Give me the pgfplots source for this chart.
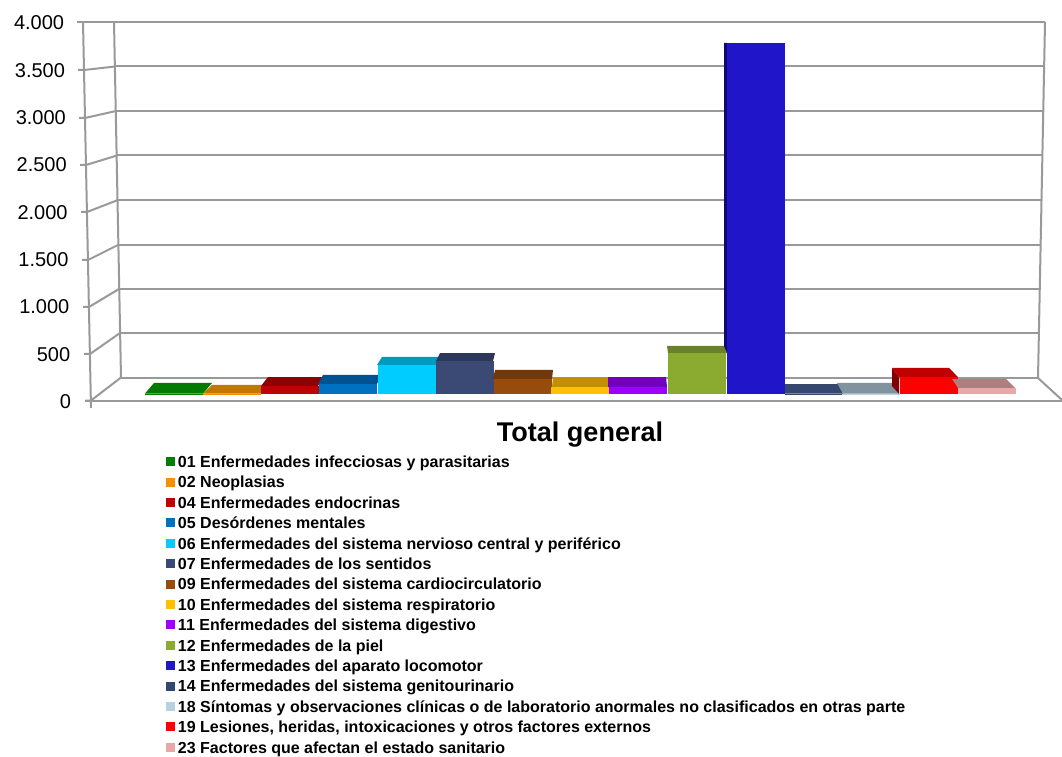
\documentclass[border=0pt]{standalone}
\usepackage{fontspec}
\setmainfont{Liberation Sans}
\usepackage{pgfplots}
\pgfplotsset{compat=1.18}
\definecolor{gridc}{HTML}{999999}
\definecolor{cA}{HTML}{007F00}\definecolor{cAt}{HTML}{007A00}
\definecolor{cB}{HTML}{F79000}\definecolor{cBt}{HTML}{C07800}
\definecolor{cC}{HTML}{C00000}\definecolor{cCt}{HTML}{8F0000}
\definecolor{cD}{HTML}{0070C0}\definecolor{cDt}{HTML}{005290}
\definecolor{cE}{HTML}{00CCFF}\definecolor{cEt}{HTML}{0099BF}
\definecolor{cF}{HTML}{3A4A75}\definecolor{cFt}{HTML}{2B3857}
\definecolor{cG}{HTML}{974B0C}\definecolor{cGt}{HTML}{713809}
\definecolor{cH}{HTML}{FFC000}\definecolor{cHt}{HTML}{BF9000}
\definecolor{cI}{HTML}{9C00FF}\definecolor{cIt}{HTML}{7200BF}
\definecolor{cJ}{HTML}{8AAB30}\definecolor{cJt}{HTML}{6A8228}
\definecolor{cK}{HTML}{2015C8}\definecolor{cKt}{HTML}{100A70}
\definecolor{cL}{HTML}{3D5A90}\definecolor{cLt}{HTML}{35466F}
\definecolor{cM}{HTML}{B7D2DE}\definecolor{cMt}{HTML}{80939E}
\definecolor{cN}{HTML}{FF0000}\definecolor{cNt}{HTML}{C00000}\definecolor{cNs}{HTML}{800000}
\definecolor{cO}{HTML}{E6A8A8}\definecolor{cOt}{HTML}{AD7F7F}
\pgfplotsset{
  hidden/.style={scale only axis,hide axis,clip=false,xmin=0,xmax=1062,width=796.5pt},
  grd/.style={gridc,line width=1.5pt,forget plot},
  barp/.style={ybar,bar width=58,bar shift=0pt,draw=none,fill=#1},
  topf/.style={draw=none,fill=#1,forget plot},
}
\begin{document}
\begin{tikzpicture}
\useasboundingbox (0,0) rectangle (796.5pt,567pt);
% structure, in reference pixels
\begin{axis}[hidden,at={(0,0)},anchor=south west,height=567pt,ymin=0,ymax=756,y dir=reverse]
\addplot[grd] coordinates {(114,22.5)(1045,22.5)};
\addplot[grd] coordinates {(115,66.5)(1044,66.5)};
\addplot[grd] coordinates {(116,111)(1043,111)};
\addplot[grd] coordinates {(117,155.5)(1042,155.5)};
\addplot[grd] coordinates {(118,200)(1042,200)};
\addplot[grd] coordinates {(118,245)(1041,245)};
\addplot[grd] coordinates {(119,289)(1040,289)};
\addplot[grd] coordinates {(120,333)(1039,333)};
\addplot[grd] coordinates {(121,377.5)(1038,377.5)};
\addplot[grd] coordinates {(77,22.5)(114,22.5)};
\addplot[grd] coordinates {(78,70)(84,70)(115,66.5)};
\addplot[grd] coordinates {(79,118)(85,118)(116,111)};
\addplot[grd] coordinates {(80,165)(86,165)(117,155.5)};
\addplot[grd] coordinates {(81,212)(87,212)(118,200)};
\addplot[grd] coordinates {(82,260)(88,260)(118,245)};
\addplot[grd] coordinates {(83,307)(89,307)(119,289)};
\addplot[grd] coordinates {(84,354)(90,354)(120,333)};
\addplot[grd] coordinates {(85,400.5)(91,400.5)(121,377.5)};
\addplot[grd] coordinates {(83,22)(91,408)};
\addplot[grd] coordinates {(114,22)(121,378)};
\addplot[grd] coordinates {(1045,22)(1038,378)(1062,400)};
\addplot[grd] coordinates {(85,400.5)(1062,400.5)};
\node[font=\fontsize{20.3}{24}\selectfont\bfseries,anchor=center] at (axis cs:580,435) {Total general};
\end{axis}
% bars: value 0 at the bars' base
\begin{axis}[hidden,at={(0,0)},anchor=south west,height=567pt,ymin=-3842.9,ymax=4182.6,
  legend cell align=left,
  legend style={at={(166/1062,1-455.5/756)},anchor=north west,draw=none,fill=none,inner sep=0pt,outer sep=0pt,
    font=\fontsize{12}{14}\selectfont\bfseries,row sep=3.8pt,/tikz/column sep=2.2pt,
    nodes={inner sep=0pt,text height=9pt,text depth=2.5pt}},
  legend image code/.code={\fill[#1,draw=none] (0pt,-2.3pt) rectangle (6.8pt,4.5pt);},
]
\addplot[topf=cAt] coordinates {(145,5)(203,5)(212,117)(154,117)} -- cycle;
\addplot[barp=cA] coordinates {(174,5)};
\addlegendentry{01 Enfermedades infecciosas y parasitarias}
\addplot[topf=cBt] coordinates {(203,5)(261,5)(268,96)(212,96)} -- cycle;
\addplot[barp=cB] coordinates {(232,5)};
\addlegendentry{02 Neoplasias}
\addplot[topf=cCt] coordinates {(261,85)(318,85)(323,180)(268,180)} -- cycle;
\addplot[barp=cC] coordinates {(289.5,85)};
\addlegendentry{04 Enfermedades endocrinas}
\addplot[topf=cDt] coordinates {(318,106)(377,106)(381,202)(323,202)} -- cycle;
\addplot[barp=cD] coordinates {(347.5,106)};
\addlegendentry{05 Desórdenes mentales}
\addplot[topf=cEt] coordinates {(377,308)(436,308)(439,393)(382,393)} -- cycle;
\addplot[barp=cE] coordinates {(406.5,308)};
\addlegendentry{06 Enfermedades del sistema nervioso central y periférico}
\addplot[topf=cFt] coordinates {(436,350)(493,350)(495,435)(440,435)} -- cycle;
\addplot[barp=cF] coordinates {(464.5,350)};
\addlegendentry{07 Enfermedades de los sentidos}
\addplot[topf=cGt] coordinates {(493,159)(552,159)(553,255)(495,255)} -- cycle;
\addplot[barp=cG] coordinates {(522.5,159)};
\addlegendentry{09 Enfermedades del sistema cardiocirculatorio}
\addplot[topf=cHt] coordinates {(552,74)(608,74)(608,180)(553,180)} -- cycle;
\addplot[barp=cH] coordinates {(580,74)};
\addlegendentry{10 Enfermedades del sistema respiratorio}
\addplot[topf=cIt] coordinates {(608,74)(667,74)(666,180)(608,180)} -- cycle;
\addplot[barp=cI] coordinates {(638,74)};
\addlegendentry{11 Enfermedades del sistema digestivo}
\addplot[topf=cJt] coordinates {(668,435)(727,435)(725,510)(667,510)} -- cycle;
\addplot[barp=cJ] coordinates {(697,435)};
\addlegendentry{12 Enfermedades de la piel}
\addplot[topf=cKt] coordinates {(727,435)(727,3726)(724,3726)(724,510)} -- cycle;
\addplot[barp=cK] coordinates {(756,3726)};
\addlegendentry{13 Enfermedades del aparato locomotor}
\addplot[topf=cLt] coordinates {(785,5)(843,5)(838,106)(785,106)} -- cycle;
\addplot[barp=cLt] coordinates {(813.5,5)};
\addlegendentry{14 Enfermedades del sistema genitourinario}
\addplot[topf=cMt] coordinates {(843,5)(899,5)(892,117)(837,117)} -- cycle;
\addplot[barp=cM] coordinates {(871,5)};
\addlegendentry{18 Síntomas y observaciones clínicas o de laboratorio anormales no clasificados en otras parte}
\addplot[topf=cNs] coordinates {(899,0)(899,180)(892,276)(892,85)} -- cycle;
\addplot[topf=cNt] coordinates {(899,180)(958,180)(949,276)(892,276)} -- cycle;
\addplot[barp=cN] coordinates {(928.5,180)};
\addlegendentry{19 Lesiones, heridas, intoxicaciones y otros factores externos}
\addplot[topf=cOt] coordinates {(958,64)(1015,64)(1006,159)(952,159)} -- cycle;
\addplot[barp=cO] coordinates {(986.5,64)};
\addlegendentry{23 Factores que afectan el estado sanitario}
\end{axis}
% value axis, in the front plane
\begin{axis}[scale only axis,clip=false,at={(63pt,266.6pt)},anchor=south west,
  width=733.5pt,height=283.9pt,xmin=0,xmax=1,ymin=0,ymax=4000,
  axis x line=none,axis y line=left,y axis line style={draw=none},
  ytick={0,500,1000,1500,2000,2500,3000,3500,4000},
  major tick length=0pt,
  /pgf/number format/1000 sep={.},
  /pgf/number format/assume math mode=true,
  yticklabel={\pgfmathsetlengthmacro\hs{\tick*0.0013125}\pgfmathprintnumber{\tick}\hspace{\hs}\null},
  yticklabel style={font=\fontsize{15}{17}\selectfont,xshift=-9.5pt,yshift=-0.75pt,inner sep=0pt},
]
\addplot[draw=none,forget plot] coordinates {(0,0)(1,4000)};
\end{axis}
\end{tikzpicture}
\end{document}
